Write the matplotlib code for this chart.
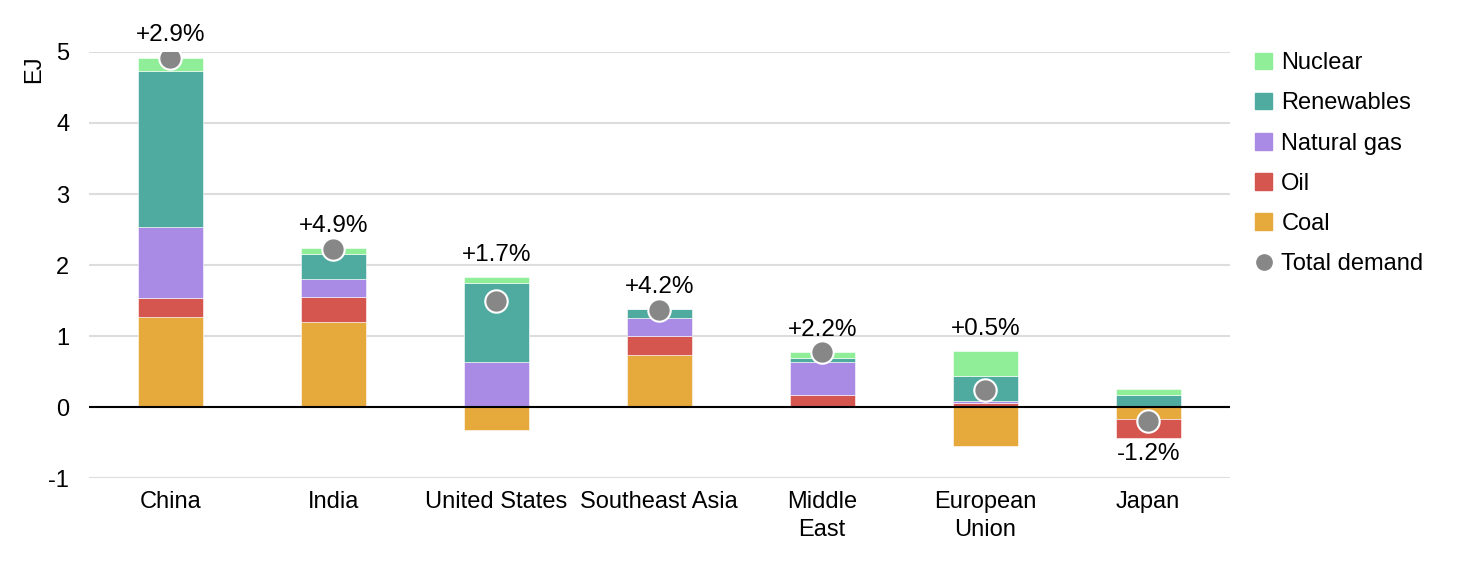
import numpy as np
import matplotlib
matplotlib.use("Agg")
import matplotlib.pyplot as plt
from matplotlib.lines import Line2D
from matplotlib.patches import Patch

plt.rcParams['font.family'] = ['Liberation Sans', 'DejaVu Sans']
plt.rcParams['axes.unicode_minus'] = False

regions = ["China", "India", "United States", "Southeast Asia", "Middle\nEast", "European\nUnion", "Japan"]
coal = [1.27, 1.20, -0.32, 0.74, 0.0, -0.545, -0.165]
oil = [0.26, 0.35, 0.0, 0.26, 0.17, 0.056, -0.265]
gas = [1.01, 0.25, 0.63, 0.26, 0.46, 0.03, 0.0]
renewables = [2.19, 0.36, 1.12, 0.12, 0.06, 0.355, 0.17]
nuclear = [0.19, 0.08, 0.08, 0.0, 0.09, 0.35, 0.08]
total = [4.92, 2.22, 1.50, 1.37, 0.78, 0.24, -0.19]
growth = ["+2.9%", "+4.9%", "+1.7%", "+4.2%", "+2.2%", "+0.5%", "-1.2%"]

series = [("Coal", coal, "#e6a93b"), ("Oil", oil, "#d5554f"),
          ("Natural gas", gas, "#a98be5"), ("Renewables", renewables, "#4faaa0"),
          ("Nuclear", nuclear, "#90ee98")]

fig = plt.figure(figsize=(14.78, 5.64), dpi=100)
ax = fig.add_axes([0.060, 0.152, 0.772, 0.756])

x = np.arange(len(regions))
w = 0.4
pos_base = np.zeros(len(regions))
neg_base = np.zeros(len(regions))
for name, vals, col in series:
    v = np.array(vals)
    b = np.where(v >= 0, pos_base, neg_base)
    ax.bar(x, v, w, bottom=b, color=col, edgecolor='white', linewidth=0.4, zorder=2)
    pos_base = pos_base + np.clip(v, 0, None)
    neg_base = neg_base + np.clip(v, None, 0)

ax.scatter(x, total, s=260, color='#878787', edgecolor='white', linewidth=1.5, zorder=4)

for i in range(len(regions)):
    if total[i] >= 0:
        ax.annotate(growth[i], (x[i], pos_base[i]), xytext=(0, 8), textcoords='offset points',
                    ha='center', va='bottom', fontsize=17.5, annotation_clip=False)
    else:
        ax.annotate(growth[i], (x[i], neg_base[i]), xytext=(0, -4), textcoords='offset points',
                    ha='center', va='top', fontsize=17.5, annotation_clip=False)

ax.set_xlim(-0.5, 6.5)
ax.set_ylim(-1, 5)
ax.set_yticks(range(-1, 6))
ax.set_xticks(x)
ax.set_xticklabels(regions, fontsize=17, linespacing=1.35)
ax.tick_params(axis='y', labelsize=17, length=0, pad=14)
ax.tick_params(axis='x', length=0, pad=9)
ax.grid(axis='y', color='#dddddd', linewidth=1.5, zorder=0)
ax.axhline(0, color='black', linewidth=1.5, zorder=3)
for s in ax.spines.values():
    s.set_visible(False)
ax.set_ylabel("EJ", fontsize=17)
ax.yaxis.set_label_coords(-0.038, 0.96)

handles = [Patch(color=c, label=n) for n, v, c in series[::-1]]
handles.append(Line2D([0], [0], marker='o', linestyle='', color='#878787', markersize=11,
                      label='Total demand'))
leg = fig.legend(handles=handles, loc='upper left', bbox_to_anchor=(0.835, 0.945), frameon=False,
                 fontsize=17, handlelength=0.7, handleheight=0.7, handletextpad=0.4, labelspacing=0.77)

fig.savefig("out.png", dpi=100)
